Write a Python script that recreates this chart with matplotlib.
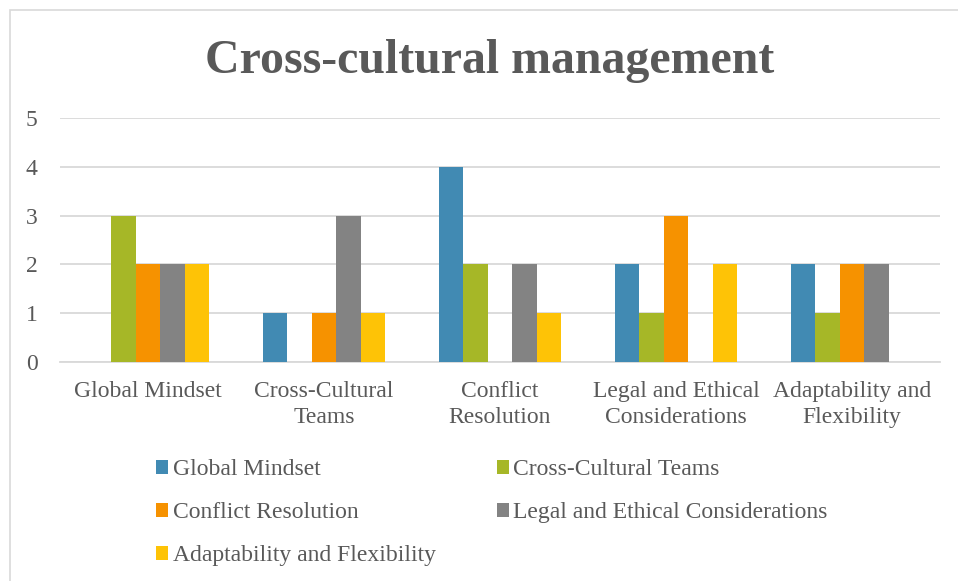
import numpy as np
import matplotlib.pyplot as plt
from matplotlib.patches import Rectangle

categories = ['Global Mindset', 'Cross-Cultural\nTeams', 'Conflict\nResolution',
              'Legal and Ethical\nConsiderations', 'Adaptability and\nFlexibility']
series_names = ['Global Mindset', 'Cross-Cultural Teams', 'Conflict Resolution',
                'Legal and Ethical Considerations', 'Adaptability and Flexibility']
global_mindset = [0, 1, 4, 2, 2]
cross_cultural_teams = [3, 0, 2, 1, 1]
conflict_resolution = [2, 1, 0, 3, 2]
legal_ethical = [2, 3, 2, 0, 2]
adaptability = [2, 1, 1, 2, 0]
colors = ['#418AB3', '#A6B727', '#F69200', '#838383', '#FEC306']

plt.rcParams['font.family'] = ['Liberation Serif', 'DejaVu Serif']
text_color = '#595959'

fig = plt.figure(figsize=(9.58, 5.81), dpi=100)
ax = fig.add_axes([60 / 958, 1 - 362 / 581, 880 / 958, 244 / 581])

# chart border
fig.patches.append(Rectangle((10 / 958, -0.1), 1.2, 1 - 10 / 581 + 0.1,
                             transform=fig.transFigure, fill=False,
                             edgecolor='#D9D9D9', linewidth=1.2))

data = [global_mindset, cross_cultural_teams, conflict_resolution, legal_ethical, adaptability]
x = np.arange(len(categories))
width = 0.139
handles = []
for i, vals in enumerate(data):
    b = ax.bar(x + (i - 2) * width, vals, width, color=colors[i], label=series_names[i], zorder=3)
    handles.append(b)

ax.set_xlim(-0.5, len(categories) - 0.5)
ax.set_ylim(0, 5)
ax.set_yticks(range(6))
ax.set_xticks(x)
ax.set_xticklabels(categories)
ax.grid(axis='y', color='#D9D9D9', linewidth=1.3, zorder=0)
for s in ['top', 'right', 'left']:
    ax.spines[s].set_visible(False)
ax.spines['bottom'].set_color('#D9D9D9')
ax.spines['bottom'].set_linewidth(1.3)
ax.tick_params(axis='both', length=0, labelsize=17, colors=text_color)
ax.tick_params(axis='x', pad=14)
ax.tick_params(axis='y', pad=16)
for lbl in ax.get_xticklabels():
    lbl.set_linespacing(1.28)

fig.text(490 / 958, 1 - 61 / 581, 'Cross-cultural management', ha='center', va='center',
         fontsize=34.5, fontweight='bold', color=text_color)

order = [0, 2, 4, 1, 3]
leg = fig.legend([handles[i] for i in order], [series_names[i] for i in order],
                 ncol=2, loc='upper left', bbox_to_anchor=(135 / 958, 1 - 438 / 581),
                 frameon=False, fontsize=17, handlelength=0.5, handleheight=0.5,
                 handletextpad=0.2, columnspacing=2.58, labelspacing=0.93)
for t in leg.get_texts():
    t.set_color(text_color)

fig.savefig('out.png', dpi=100)
